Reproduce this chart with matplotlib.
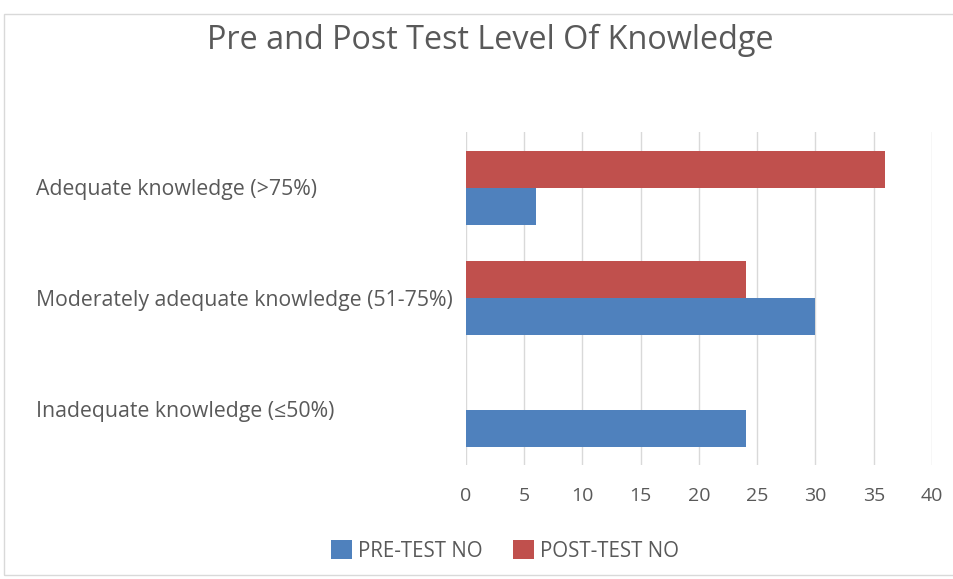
import numpy as np
import matplotlib.pyplot as plt
from matplotlib.patches import Rectangle

plt.rcParams['font.family'] = ['Open Sans', 'DejaVu Sans']

categories = ['Inadequate knowledge (≤50%)',
              'Moderately adequate knowledge (51-75%)',
              'Adequate knowledge (>75%)']
pre_test = [24, 30, 6]
post_test = [0, 24, 36]
x_ticks = [0, 5, 10, 15, 20, 25, 30, 35, 40]

text_color = '#595959'
blue = '#4F81BD'
red = '#C0504D'

fig = plt.figure(figsize=(9.54, 5.79), dpi=100)
fig.patches.append(Rectangle((4 / 954, 4 / 579), 1.0, 1 - 18 / 579, transform=fig.transFigure,
                             fill=False, edgecolor='#D9D9D9', linewidth=1.0))

ax = fig.add_axes([466 / 954, 1 - 465 / 579, (932 - 466) / 954, (465 - 132) / 579])

y = np.arange(len(categories))
h = 1 / 3
ax.barh(y - h / 2, pre_test, height=h, color=blue, label='PRE-TEST NO', zorder=3)
ax.barh(y + h / 2, post_test, height=h, color=red, label='POST-TEST NO', zorder=3)

ax.set_xlim(0, 40)
ax.set_ylim(-0.5, 2.5)
ax.set_xticks(x_ticks)
ax.set_yticks(y)
ax.set_yticklabels(categories)
ax.grid(axis='x', color='#D9D9D9', linewidth=1.0, zorder=0)
for s in ax.spines.values():
    s.set_visible(False)

ax.tick_params(axis='x', length=0, pad=16, labelsize=14, labelcolor=text_color)
ax.tick_params(axis='y', length=0, pad=(466 - 36) * 0.72, labelsize=15.3, labelcolor=text_color)
for lbl in ax.get_yticklabels():
    lbl.set_ha('left')
    lbl.set_va('center_baseline')

fig.text(490 / 954, 1 - 40 / 579, 'Pre and Post Test Level Of Knowledge',
         ha='center', va='center', fontsize=23.3, color=text_color)

fig.legend(loc='center', bbox_to_anchor=(505 / 954, 1 - 551 / 579), ncol=2, frameon=False,
           fontsize=14.8, labelcolor=text_color, handlelength=1.0, handleheight=1.0,
           handletextpad=0.3, columnspacing=1.5)

fig.savefig('out.png', dpi=100)
